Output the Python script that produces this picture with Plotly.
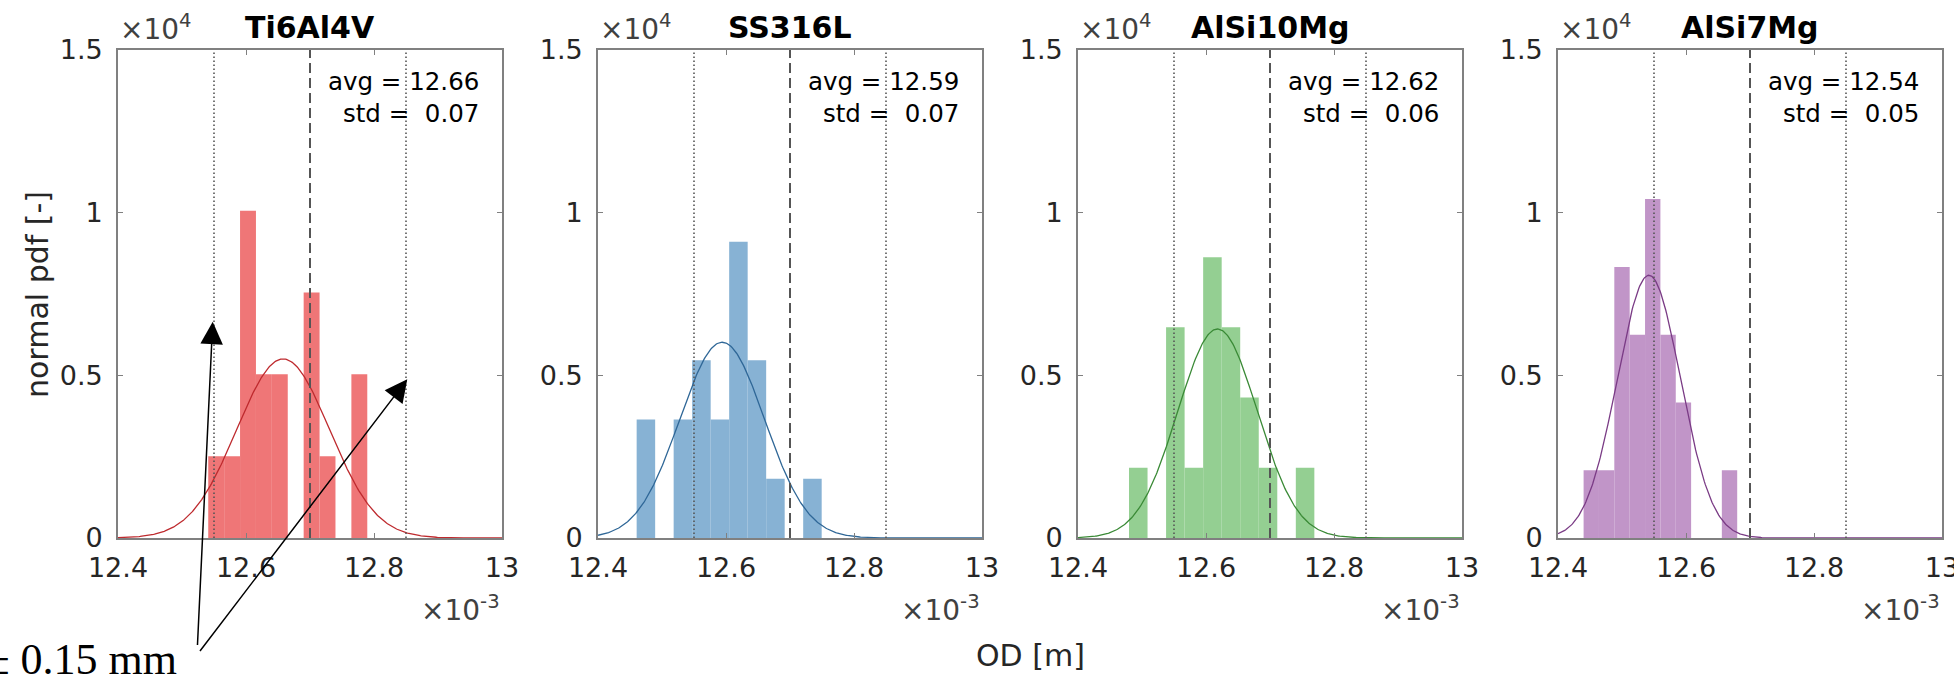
import numpy as np
import plotly.graph_objects as go

# ---------------- data ----------------
materials = ["Ti6Al4V", "SS316L", "AlSi10Mg", "AlSi7Mg"]

# histogram bins (OD in mm): first bin left edge, bin width, counts per bin
ti_bin_start, ti_bin_width = 12.541, 0.02485
ti_counts = [1, 1, 4, 2, 2, 0, 3, 1, 0, 2]

ss_bin_start, ss_bin_width = 12.4604, 0.02891
ss_counts = [2, 0, 2, 3, 2, 5, 3, 1, 0, 1]

al10_bin_start, al10_bin_width = 12.4797, 0.02896
al10_counts = [1, 0, 3, 1, 4, 3, 2, 1, 0, 1]

al7_bin_start, al7_bin_width = 12.440, 0.0240
al7_counts = [1, 1, 4, 3, 5, 3, 2, 0, 0, 1]

# fitted normal distribution parameters (mm)
fit_mean = [12.658, 12.594, 12.618, 12.542]
fit_std = [0.0725, 0.0663, 0.0621, 0.0494]

# text shown in each panel
avg_text = ["12.66", "12.59", "12.62", "12.54"]
std_text = ["0.07", "0.07", "0.06", "0.05"]

# nominal OD and tolerance (mm)
nominal_od = 12.70
tolerance = 0.15

x_tick_vals = [12.4, 12.6, 12.8, 13.0]
x_tick_text = ["12.4", "12.6", "12.8", "13"]
y_tick_vals = [0, 0.5, 1.0, 1.5]
y_tick_text = ["0", "0.5", "1", "1.5"]

# ---------------- styling ----------------
bar_colors = ["#EF7677", "#87B2D4", "#94CF92", "#C195C8"]
line_colors = ["#BE2A2E", "#2F6797", "#3A8A36", "#7A3B85"]

W, H = 1954, 675
panel_left = [118, 598, 1078, 1558]
panel_w = 384
plot_top, plot_bottom = 50, 538

def px_x(p):
    return p / W

def px_y(p):
    return 1 - p / H

FONT = "DejaVu Sans"
TXT = "#262626"
AXC = "#808080"

bins = [
    (ti_bin_start, ti_bin_width, ti_counts),
    (ss_bin_start, ss_bin_width, ss_counts),
    (al10_bin_start, al10_bin_width, al10_counts),
    (al7_bin_start, al7_bin_width, al7_counts),
]

fig = go.Figure()
layout = dict(
    width=W, height=H,
    margin=dict(l=0, r=0, t=0, b=0, autoexpand=False),
    paper_bgcolor="white", plot_bgcolor="rgba(0,0,0,0)",
    showlegend=False, barmode="overlay",
)
annotations = []
shapes = []

xs = np.linspace(12.4, 13.0, 400)

for i, name in enumerate(materials):
    xn = "x" if i == 0 else f"x{i+1}"
    yn = "y" if i == 0 else f"y{i+1}"
    xkey = "xaxis" if i == 0 else f"xaxis{i+1}"
    ykey = "yaxis" if i == 0 else f"yaxis{i+1}"

    start, width, counts = bins[i]
    n = sum(counts)
    centers = [start + width * (k + 0.5) for k in range(len(counts))]
    # probability density in 1/m, shown in units of 1e4
    dens = [c / (n * width * 1e-3) / 1e4 for c in counts]

    fig.add_trace(go.Bar(
        x=centers, y=dens, width=[width] * len(counts),
        marker=dict(color=bar_colors[i], line=dict(width=0)),
        xaxis=xn, yaxis=yn, hoverinfo="skip",
    ))

    mu, sd = fit_mean[i], fit_std[i]
    pdf = np.exp(-0.5 * ((xs - mu) / sd) ** 2) / (sd * 1e-3 * np.sqrt(2 * np.pi)) / 1e4
    fig.add_trace(go.Scatter(
        x=xs, y=pdf, mode="lines",
        line=dict(color=line_colors[i], width=1.3),
        xaxis=xn, yaxis=yn, hoverinfo="skip",
    ))

    x0 = px_x(panel_left[i])
    x1 = px_x(panel_left[i] + panel_w)
    layout[xkey] = dict(
        domain=[x0, x1], range=[12.4, 13.0], anchor=yn,
        tickvals=x_tick_vals, ticktext=x_tick_text,
        ticks="inside", ticklen=5, tickwidth=1.2, tickcolor=AXC,
        showline=True, linecolor=AXC, linewidth=1.6, mirror="ticks",
        showgrid=False, zeroline=False,
        tickfont=dict(family=FONT, size=27, color=TXT),
        ticklabelstandoff=5, ticklabeloverflow="allow",
    )
    layout[ykey] = dict(
        domain=[px_y(plot_bottom), px_y(plot_top)], range=[0, 1.5], anchor=xn,
        tickvals=y_tick_vals, ticktext=y_tick_text,
        ticks="inside", ticklen=5, tickwidth=1.2, tickcolor=AXC,
        showline=True, linecolor=AXC, linewidth=1.6, mirror="ticks",
        showgrid=False, zeroline=False,
        tickfont=dict(family=FONT, size=27, color=TXT),
        ticklabelstandoff=8, ticklabeloverflow="allow",
    )

    # reference lines: tolerance band (dotted) and nominal (dashed)
    for xv in (nominal_od - tolerance, nominal_od + tolerance):
        shapes.append(dict(
            type="line", xref=xn, yref=f"{yn} domain", x0=xv, x1=xv, y0=0, y1=1,
            line=dict(color="#555555", width=1.6, dash="1.5px,2.5px"), layer="above",
        ))
    shapes.append(dict(
        type="line", xref=xn, yref=f"{yn} domain", x0=nominal_od, x1=nominal_od, y0=0, y1=1,
        line=dict(color="#555555", width=2, dash="10px,5px"), layer="above",
    ))

    # title
    annotations.append(dict(
        text=f"<b>{name}</b>", xref="paper", yref="paper",
        x=(x0 + x1) / 2, y=px_y(28), xanchor="center", yanchor="middle",
        showarrow=False, font=dict(family=FONT, size=30, color="black"),
    ))
    # x10^4 multiplier
    annotations.append(dict(
        text="\u00d710<sup>4</sup>", xref="paper", yref="paper",
        x=x0, y=px_y(48), xanchor="left", yanchor="bottom",
        showarrow=False, font=dict(family=FONT, size=28, color="#404040"),
    ))
    # x10^-3 multiplier
    annotations.append(dict(
        text="\u00d710<sup>-3</sup>", xref="paper", yref="paper",
        x=x1, y=px_y(608), xanchor="right", yanchor="middle",
        showarrow=False, font=dict(family=FONT, size=28, color="#404040"),
    ))
    # stats text
    rx = px_x(panel_left[i] + panel_w - 21)
    annotations.append(dict(
        text=f"avg = {avg_text[i]}", xref="paper", yref="paper",
        x=rx, y=px_y(81), xanchor="right", yanchor="middle",
        showarrow=False, font=dict(family=FONT, size=24.5, color="black"),
    ))
    annotations.append(dict(
        text=f"std =\u00a0\u00a0{std_text[i]}", xref="paper", yref="paper",
        x=rx, y=px_y(114), xanchor="right", yanchor="middle",
        showarrow=False, font=dict(family=FONT, size=24.5, color="black"),
    ))

# axis labels
annotations.append(dict(
    text="normal pdf [-]", xref="paper", yref="paper",
    x=px_x(37), y=px_y(295), xanchor="center", yanchor="middle", textangle=-90,
    showarrow=False, font=dict(family=FONT, size=30, color=TXT),
))
annotations.append(dict(
    text="OD [m]", xref="paper", yref="paper",
    x=px_x(1030), y=px_y(655), xanchor="center", yanchor="middle",
    showarrow=False, font=dict(family=FONT, size=30, color=TXT),
))

# tolerance call-out with arrows (panel 1)
tail_px = (197, 655)
tips = [(12.548, 0.665), (12.852, 0.488)]
for tx, ty in tips:
    tip_px_x = panel_left[0] + (tx - 12.4) / 0.6 * panel_w
    tip_px_y = plot_bottom - ty / 1.5 * (plot_bottom - plot_top)
    annotations.append(dict(
        x=tx, y=ty, xref="x", yref="y", text=" ",
        showarrow=True, arrowhead=2, arrowsize=3.0, arrowwidth=1.5, arrowcolor="black",
        ax=tail_px[0] - tip_px_x, ay=tail_px[1] - tip_px_y, standoff=0,
    ))

# full-figure overlay axes (pixel units) for the clipped call-out label
layout["xaxis5"] = dict(domain=[0, 1], range=[0, W], visible=False, anchor="y5", fixedrange=True)
layout["yaxis5"] = dict(domain=[0, 1], range=[H, 0], visible=False, anchor="x5", fixedrange=True)
fig.add_trace(go.Scatter(
    x=[177], y=[663], mode="text", text=["\u00b1 0.15 mm"], textposition="middle left",
    textfont=dict(family="Liberation Serif", size=44, color="black"),
    xaxis="x5", yaxis="y5", hoverinfo="skip", cliponaxis=True,
))

layout["annotations"] = annotations
layout["shapes"] = shapes
fig.update_layout(**layout)
fig.write_html("out.html")
